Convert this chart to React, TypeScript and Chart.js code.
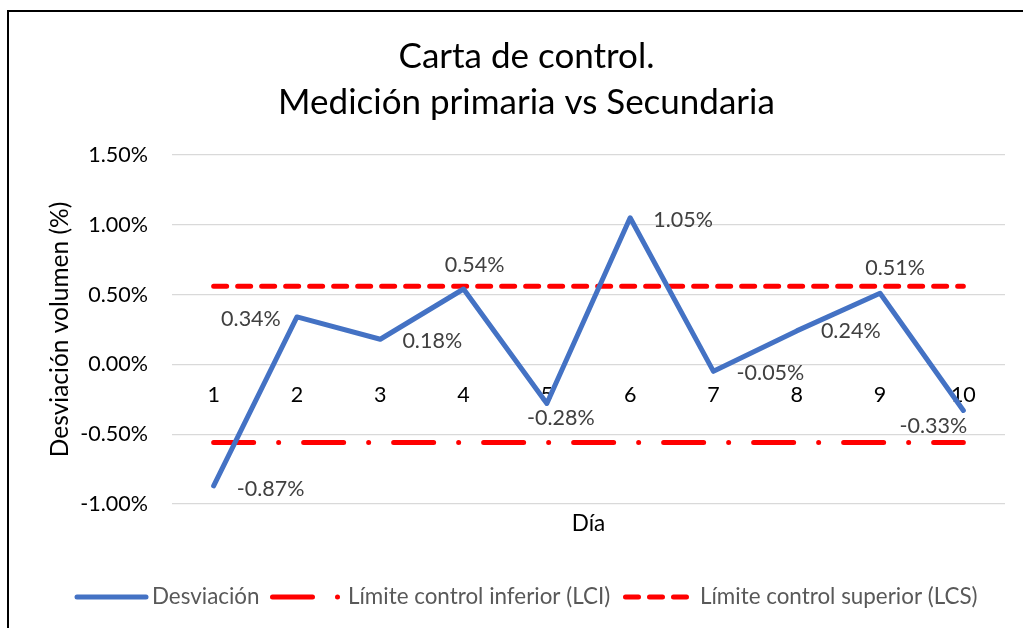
import React, { useEffect, useRef } from 'react';
import { Chart, registerables } from 'chart.js';

Chart.register(...registerables);

const categories = ['1', '2', '3', '4', '5', '6', '7', '8', '9', '10'];
const desviacion = [-0.0087, 0.0034, 0.0018, 0.0054, -0.0028, 0.0105, -0.0005, 0.0024, 0.0051, -0.0033];
const limiteInferior = [-0.0056, -0.0056, -0.0056, -0.0056, -0.0056, -0.0056, -0.0056, -0.0056, -0.0056, -0.0056];
const limiteSuperior = [0.0056, 0.0056, 0.0056, 0.0056, 0.0056, 0.0056, 0.0056, 0.0056, 0.0056, 0.0056];
const seriesLabels = ['Desviación', 'Límite control inferior (LCI)', 'Límite control superior (LCS)'];
const titleLines = ['Carta de control.', 'Medición primaria vs Secundaria'];
const yAxisTitle = 'Desviación volumen (%)';
const xAxisTitle = 'Día';
const yMin = -0.01;
const yMax = 0.015;
const yStep = 0.005;

// label placement (style): offset of each data label centre from its point, px
const labelOffsets: [number, number][] = [
  [57, 3], [-46, 2], [52, 2], [11, -24], [14, 15],
  [53, 2], [57, 2], [54, 0], [15, -25], [-30, 16],
];

const FONT = 'Lato, "Noto Sans", sans-serif';
const fmtPct = (v: number) => (v * 100).toFixed(2) + '%';

const dataLabelPlugin = {
  id: 'dataLabels',
  afterDatasetsDraw(chart: any) {
    const meta = chart.getDatasetMeta(0);
    const ctx = chart.ctx;
    ctx.save();
    ctx.font = `21.5px ${FONT}`;
    ctx.fillStyle = '#404040';
    ctx.textAlign = 'center';
    ctx.textBaseline = 'middle';
    meta.data.forEach((pt: any, i: number) => {
      const [dx, dy] = labelOffsets[i];
      ctx.fillText(fmtPct(desviacion[i]), pt.x + dx, pt.y + dy);
    });
    ctx.restore();
  },
};

const extrasPlugin = {
  id: 'extras',
  afterDraw(chart: any) {
    const ctx = chart.ctx;
    const area = chart.chartArea;
    ctx.save();
    // x axis title
    ctx.font = `22.5px ${FONT}`;
    ctx.fillStyle = '#000000';
    ctx.textAlign = 'center';
    ctx.textBaseline = 'middle';
    ctx.fillText(xAxisTitle, (area.left + area.right) / 2, 524);

    // y axis title
    ctx.save();
    ctx.translate(60, (area.top + area.bottom) / 2);
    ctx.rotate(-Math.PI / 2);
    ctx.font = `24.5px ${FONT}`;
    ctx.fillText(yAxisTitle, 0, 0);
    ctx.restore();

    // legend
    const ly = 597;
    const items = [
      { x0: 77, x1: 146, textX: 152, ds: 0 },
      { x0: 272.5, x1: 340, textX: 348, ds: 1 },
      { x0: 625.5, x1: 688, textX: 700, ds: 2 },
    ];
    ctx.font = `22.4px ${FONT}`;
    ctx.textAlign = 'left';
    items.forEach((it) => {
      const d = chart.data.datasets[it.ds];
      ctx.beginPath();
      ctx.strokeStyle = d.borderColor;
      ctx.lineWidth = 5;
      ctx.lineCap = 'round';
      ctx.setLineDash(d.borderDash || []);
      ctx.moveTo(it.x0, ly);
      ctx.lineTo(it.x1, ly);
      ctx.stroke();
      ctx.setLineDash([]);
      ctx.fillStyle = '#595959';
      ctx.fillText(d.label, it.textX, ly);
    });
    ctx.restore();
  },
};

export default function App() {
  const canvasRef = useRef<HTMLCanvasElement>(null);

  useEffect(() => {
    if (!canvasRef.current) return;
    const chart = new Chart(canvasRef.current, {
      type: 'line',
      data: {
        labels: categories,
        datasets: [
          {
            label: seriesLabels[0],
            data: desviacion,
            borderColor: '#4472C4',
            backgroundColor: '#4472C4',
            borderWidth: 5,
            pointRadius: 0,
            pointHoverRadius: 0,
            tension: 0,
            borderCapStyle: 'round',
            borderJoinStyle: 'round',
          },
          {
            label: seriesLabels[1],
            data: limiteInferior,
            borderColor: '#FF0000',
            backgroundColor: '#FF0000',
            borderWidth: 5,
            pointRadius: 0,
            pointHoverRadius: 0,
            borderDash: [40, 25, 0, 25],
            borderCapStyle: 'round',
          },
          {
            label: seriesLabels[2],
            data: limiteSuperior,
            borderColor: '#FF0000',
            backgroundColor: '#FF0000',
            borderWidth: 5,
            pointRadius: 0,
            pointHoverRadius: 0,
            borderDash: [13, 11],
            borderCapStyle: 'round',
          },
        ],
      },
      options: {
        animation: false,
        responsive: false,
        maintainAspectRatio: false,
        layout: { padding: { left: 48, right: 18, top: 0, bottom: 124 } },
        plugins: {
          legend: { display: false },
          tooltip: { enabled: false },
          title: {
            display: true,
            text: titleLines,
            color: '#000000',
            font: { family: FONT, size: 35, weight: 'normal', lineHeight: 1.314 },
            padding: { top: 34, bottom: 29 },
          },
        },
        scales: {
          x: {
            type: 'category',
            position: { y: 0 },
            offset: true,
            grid: { display: false, drawTicks: false },
            border: { display: false },
            ticks: {
              color: '#000000',
              font: { family: FONT, size: 21.5 },
              padding: 18,
              maxRotation: 0,
            },
          },
          y: {
            min: yMin,
            max: yMax,
            grid: { color: '#d9d9d9', lineWidth: 1.3, drawTicks: false },
            border: { display: false },
            ticks: {
              stepSize: yStep,
              color: '#000000',
              font: { family: FONT, size: 21.5 },
              padding: 24,
              callback: (v: any) => fmtPct(Number(v)),
            },
            title: { display: false },
            afterFit: (scale: any) => {
              scale.width = 124;
            },
          },
        },
      },
      plugins: [dataLabelPlugin, extrasPlugin],
    } as any);
    return () => chart.destroy();
  }, []);

  return (
    <div style={{ position: 'fixed', left: 0, top: 0, width: 1023, height: 628, overflow: 'hidden', background: '#ffffff' }}>
      <div style={{ position: 'absolute', left: 7, top: 10, width: 1100, height: 700, border: '2px solid #000000' }} />
      <canvas ref={canvasRef} width={1023} height={628} style={{ position: 'absolute', left: 0, top: 0, width: 1023, height: 628 }} />
    </div>
  );
}
